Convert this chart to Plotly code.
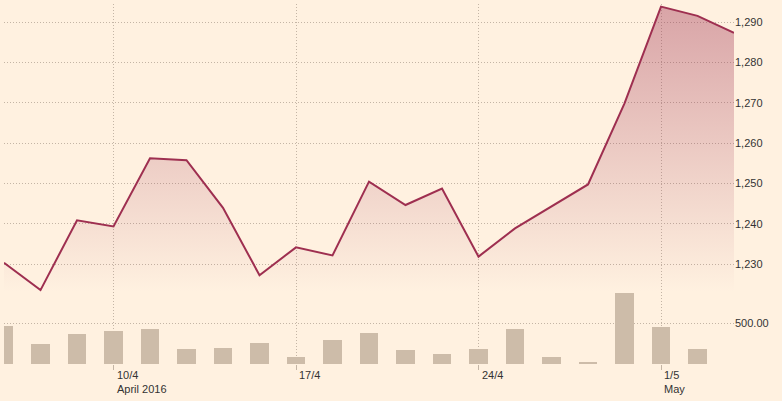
import plotly.graph_objects as go

# ---- data ----
dates = ["2016-04-06", "2016-04-07", "2016-04-08",
         "2016-04-11", "2016-04-12", "2016-04-13", "2016-04-14", "2016-04-15",
         "2016-04-18", "2016-04-19", "2016-04-20", "2016-04-21", "2016-04-22",
         "2016-04-25", "2016-04-26", "2016-04-27", "2016-04-28", "2016-04-29",
         "2016-05-02", "2016-05-03", "2016-05-04"]
price = [1230.4, 1223.6, 1240.9,
         1239.4, 1256.3, 1255.8, 1244.0, 1227.3,
         1234.2, 1232.2, 1250.5, 1244.7, 1248.8,
         1231.9, 1238.9, 1244.4, 1249.8, 1269.9,
         1293.9, 1291.6, 1287.4]
volume = [467, 244, 367,
          405, 429, 182, 194, 256,
          83, 293, 380, 170, 120,
          182, 429, 83, 21, 875,
          454, 182, None]
tick_dates = ["2016-04-11", "2016-04-18", "2016-04-25", "2016-05-02"]
tick_labels = ["10/4<br>April 2016", "17/4", "24/4", "1/5<br>May"]
price_ticks = [1230, 1240, 1250, 1260, 1270, 1280, 1290]
volume_ticks = [500]
volume_tick_text = ["500.00"]

# ---- styling ----
BG = "#fff1e0"
LINE = "#9e2f50"
BAR = "#cdbca9"
GRID = "#c4b5a5"
TEXT = "#333333"
FONT = "Liberation Sans, Arial, sans-serif"
DOT = "1px,2px"

price_range = [1223.13, 1294.54]
volume_range = [0, 891]

fig = go.Figure()

fig.add_trace(go.Scatter(
    x=dates, y=price, mode="lines",
    line=dict(color=LINE, width=2),
    fill="tozeroy",
    fillgradient=dict(
        type="vertical",
        colorscale=[[0, "rgba(158,47,80,0)"], [1, "rgba(158,47,80,0.4)"]],
        start=price_range[0], stop=price_range[1]),
    xaxis="x", yaxis="y", hoverinfo="skip", showlegend=False,
))

fig.add_trace(go.Bar(
    x=dates, y=volume, marker=dict(color=BAR, line=dict(width=0)),
    width=0.52, xaxis="x", yaxis="y2", showlegend=False, hoverinfo="skip",
))

annotations = []
for d, t in zip(tick_dates, tick_labels):
    annotations.append(dict(
        x=d, xref="x", y=0, yref="paper", text=t, showarrow=False,
        xanchor="left", yanchor="top", align="left", xshift=1, yshift=-3,
        font=dict(family=FONT, size=11, color=TEXT),
    ))

fig.update_layout(
    width=782, height=401,
    margin=dict(l=4, r=48, t=4, b=37),
    paper_bgcolor=BG, plot_bgcolor=BG,
    bargap=0,
    font=dict(family=FONT, size=11, color=TEXT),
    xaxis=dict(
        type="category", categoryorder="array", categoryarray=dates,
        range=[0, len(dates) - 1], anchor="y2",
        tickmode="array", tickvals=tick_dates, ticktext=["" for _ in tick_dates],
        showticklabels=False,
        ticks="outside", ticklen=5, tickcolor=GRID, tickwidth=1,
        showgrid=True, gridcolor=GRID, griddash=DOT, gridwidth=1,
        showline=False, zeroline=False, fixedrange=True,
    ),
    yaxis=dict(
        domain=[0.2, 1], side="right", range=price_range,
        tickmode="array", tickvals=price_ticks, tickformat=",",
        showgrid=True, gridcolor=GRID, griddash=DOT, gridwidth=1,
        zeroline=False, showline=False, ticks="",
        tickfont=dict(family=FONT, size=11, color=TEXT),
    ),
    yaxis2=dict(
        domain=[0, 0.2], side="right", range=volume_range, anchor="x",
        tickmode="array", tickvals=volume_ticks, ticktext=volume_tick_text,
        showgrid=True, gridcolor=GRID, griddash=DOT, gridwidth=1,
        zeroline=False, showline=False, ticks="",
        tickfont=dict(family=FONT, size=11, color=TEXT),
    ),
    annotations=annotations,
)

fig.write_html(
    "out.html",
    config={"displayModeBar": False, "staticPlot": True},
    post_script="document.body.style.margin='0';document.body.style.background='#fff1e0';",
)
